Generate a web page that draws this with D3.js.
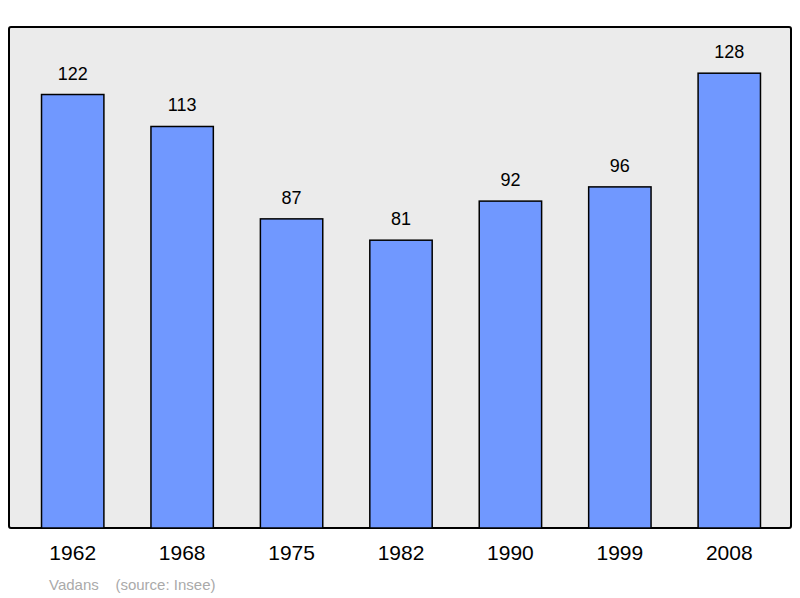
<!DOCTYPE html>
<html><head><meta charset="utf-8">
<script src="https://cdn.jsdelivr.net/npm/d3@7"></script>
<style>body{margin:0;background:#fff}</style></head>
<body><svg id="c" width="800" height="598"></svg>
<script>
const years = ["1962","1968","1975","1982","1990","1999","2008"];
const population = [122,113,87,81,92,96,128];
const footerName = "Vadans";
const footerSource = "(source: Insee)";

const svg = d3.select("#c");
const font = "Liberation Sans, Arial, sans-serif";
svg.append("rect").attr("x",9).attr("y",27).attr("width",782).attr("height",501)
  .attr("fill","#ebebeb").attr("stroke","#000").attr("stroke-width",2).attr("rx",2);
const x = d3.scaleBand().domain(years).range([18,784]).paddingInner(0.43).paddingOuter(0.215);
const y = d3.scaleLinear().domain([0,141]).range([528,27]);
svg.selectAll("rect.bar").data(population).join("rect").attr("class","bar")
  .attr("x",(d,i)=>x(years[i])).attr("width",x.bandwidth())
  .attr("y",d=>y(d)).attr("height",d=>y(0)-y(d))
  .attr("fill","#7098ff").attr("stroke","#000").attr("stroke-width",1.5);
svg.selectAll("text.v").data(population).join("text").attr("class","v")
  .attr("x",(d,i)=>x(years[i])+x.bandwidth()/2).attr("y",d=>y(d)-15)
  .attr("text-anchor","middle").attr("font-family",font).attr("font-size",18).text(d=>d);
const ax = svg.append("g").attr("transform","translate(0,528)").call(d3.axisBottom(x).tickSize(0).tickPadding(17));
ax.select(".domain").remove();
ax.selectAll("text").attr("font-family",font).attr("font-size",21).attr("fill","#000");
svg.append("text").attr("x",49).attr("y",590).attr("font-family",font).attr("font-size",15)
  .attr("fill","#aaa").attr("xml:space","preserve").text(footerName+"    "+footerSource);
</script></body></html>
